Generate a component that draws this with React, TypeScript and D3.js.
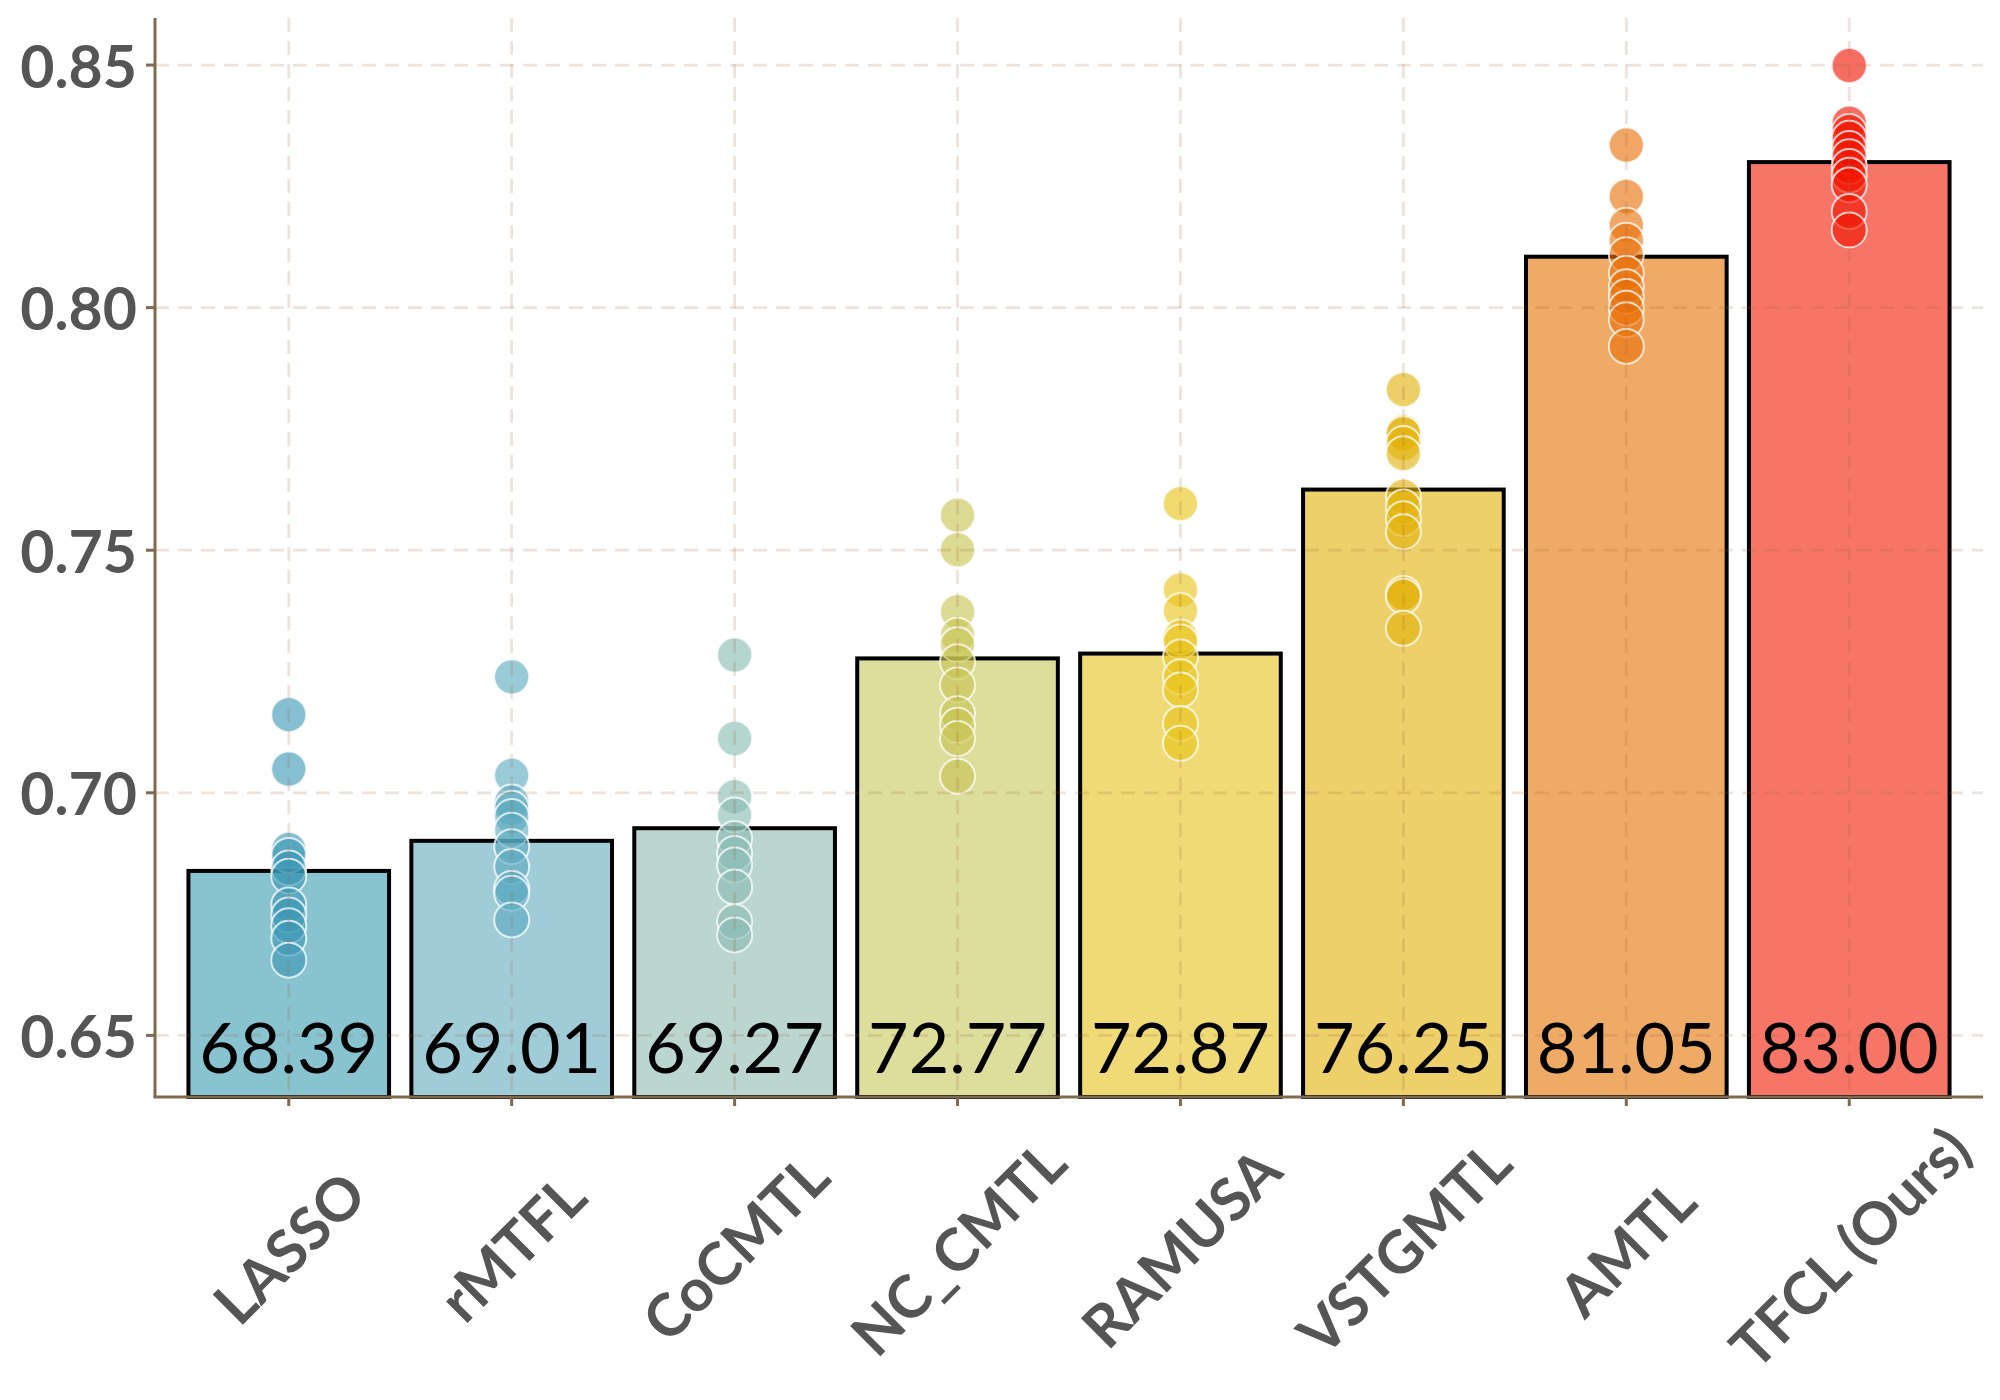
import React from "react";
import * as d3 from "d3";

const categories = ["LASSO", "rMTFL", "CoCMTL", "NC_CMTL", "RAMUSA", "VSTGMTL", "AMTL", "TFCL (Ours)"];
const barValues = [0.6839, 0.6901, 0.6927, 0.7277, 0.7287, 0.7625, 0.8105, 0.83];
const barLabels = ["68.39", "69.01", "69.27", "72.77", "72.87", "76.25", "81.05", "83.00"];

const ptsLASSO = [0.7161, 0.7049, 0.6883, 0.6871, 0.6845, 0.6828, 0.6769, 0.6748, 0.6726, 0.67, 0.6655];
const ptsRMTFL = [0.7239, 0.7036, 0.6981, 0.6968, 0.6951, 0.6923, 0.6889, 0.6848, 0.6803, 0.6793, 0.6738];
const ptsCoCMTL = [0.7284, 0.7112, 0.6992, 0.6954, 0.6906, 0.6875, 0.6851, 0.6806, 0.6734, 0.6707];
const ptsNCCMTL = [0.7572, 0.7501, 0.7373, 0.7325, 0.7305, 0.727, 0.7222, 0.7163, 0.7139, 0.7112, 0.7034];
const ptsRAMUSA = [0.7596, 0.7418, 0.7375, 0.7321, 0.7311, 0.728, 0.7239, 0.7212, 0.7143, 0.7102];
const ptsVSTGMTL = [0.7831, 0.7744, 0.774, 0.772, 0.7699, 0.7611, 0.7589, 0.7565, 0.7538, 0.7411, 0.7405, 0.7339];
const ptsAMTL = [0.8335, 0.8229, 0.817, 0.8139, 0.8109, 0.8071, 0.8043, 0.8023, 0.7999, 0.7975, 0.792];
const ptsTFCL = [0.8499, 0.838, 0.8363, 0.8349, 0.8328, 0.8311, 0.8291, 0.8273, 0.8253, 0.8198, 0.816];
const points = [ptsLASSO, ptsRMTFL, ptsCoCMTL, ptsNCCMTL, ptsRAMUSA, ptsVSTGMTL, ptsAMTL, ptsTFCL];

const yTicks = [0.65, 0.7, 0.75, 0.8, 0.85];
const yTickLabels = ["0.65", "0.70", "0.75", "0.80", "0.85"];

const barColors = ["#88c3d0", "#a0ccd8", "#bad6cf", "#dddd9c", "#f0da76", "#edd06a", "#efaa66", "#f67567"];
const dotColors = ["#3c98b4", "#5aaac0", "#88bcb1", "#c6c450", "#e8c418", "#e2b20a", "#e87008", "#f01400"];

export default function App() {
  const W = 2000;
  const H = 1400;
  const left = 155;
  const right = 1983;
  const bottom = 1097;
  const top = 18;

  const x = d3.scaleBand<string>().domain(categories).range([left, right]).paddingInner(0.1).paddingOuter(0.15);
  const y = d3.scaleLinear().domain([0.6373, 0.8597]).range([bottom, top]);
  const bw = x.bandwidth();
  const cx = (c: string) => (x(c) as number) + bw / 2;

  const axisColor = "#7f6a50";
  const gridColor = "#a0643c";
  const font = "Lato, 'Open Sans', sans-serif";

  return (
    <svg width={W} height={H} style={{ position: "absolute", left: 0, top: 0, background: "#fff" }}>
      <rect x={0} y={0} width={W} height={H} fill="#fff" />
      {categories.map((c, i) => (
        <rect
          key={"b" + c}
          x={x(c)}
          y={y(barValues[i])}
          width={bw}
          height={bottom - y(barValues[i])}
          fill={barColors[i]}
          stroke="#000"
          strokeWidth={4}
        />
      ))}
      {categories.map((c, i) =>
        points[i].map((v, j) => (
          <circle
            key={"p" + i + "-" + j}
            cx={cx(c)}
            cy={y(v)}
            r={17.5}
            fill={dotColors[i]}
            fillOpacity={0.62}
            stroke="#ffffff"
            strokeOpacity={0.75}
            strokeWidth={2}
          />
        ))
      )}
      <g stroke={gridColor} strokeOpacity={0.18} strokeWidth={2.8} strokeDasharray="14 9">
        {yTicks.map((t) => (
          <line key={"gy" + t} x1={left} x2={right} y1={y(t)} y2={y(t)} />
        ))}
        {categories.map((c) => (
          <line key={"gx" + c} x1={cx(c)} x2={cx(c)} y1={top} y2={bottom} />
        ))}
      </g>
      {categories.map((c, i) => (
        <text
          key={"v" + c}
          x={cx(c)}
          y={1073}
          textAnchor="middle"
          fontFamily={font}
          fontSize={70}
          fill="#000"
        >
          {barLabels[i]}
        </text>
      ))}
      <line x1={left} x2={left} y1={top} y2={bottom} stroke={axisColor} strokeWidth={3} />
      <line x1={left - 1.5} x2={right} y1={bottom} y2={bottom} stroke={axisColor} strokeWidth={3} />
      {yTicks.map((t, i) => (
        <g key={"yt" + t}>
          <line x1={left - 9} x2={left} y1={y(t)} y2={y(t)} stroke={axisColor} strokeWidth={3} />
          <text
            x={137}
            y={y(t)}
            textAnchor="end"
            dominantBaseline="central"
            fontFamily={font}
            fontWeight="bold"
            fontSize={59}
            fill="#555555"
          >
            {yTickLabels[i]}
          </text>
        </g>
      ))}
      {categories.map((c) => (
        <g key={"xt" + c}>
          <line x1={cx(c)} x2={cx(c)} y1={bottom} y2={bottom + 9} stroke={axisColor} strokeWidth={3} />
          <text
            x={cx(c)}
            y={1247}
            transform={`rotate(-45, ${cx(c)}, 1247)`}
            textAnchor="middle"
            dominantBaseline="central"
            fontFamily={font}
            fontWeight="bold"
            fontSize={59}
            fill="#555555"
          >
            {c}
          </text>
        </g>
      ))}
    </svg>
  );
}
